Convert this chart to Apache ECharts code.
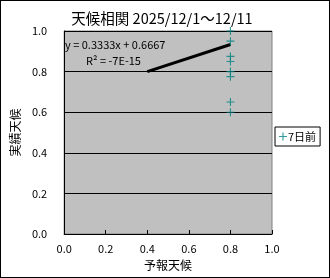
<!DOCTYPE html>
<html><head><meta charset="utf-8">
<script src="https://cdn.jsdelivr.net/npm/echarts@6/dist/echarts.min.js"></script>
<style>html,body{margin:0;padding:0;background:#fff}#c{width:330px;height:278px;box-sizing:border-box;border:1px solid #000}</style>
</head><body><div id="c"></div>
<script>
const titleText = '天候相関 2025/12/1～12/11';
const seriesName = '7日前';
const forecastX = [0.8, 0.8, 0.8, 0.8, 0.8, 0.8, 0.8, 0.8];
const actualY = [1.0, 0.95, 0.875, 0.85, 0.8, 0.775, 0.65, 0.6];
const trendX = [0.4, 0.8];
const slope = 0.3333, intercept = 0.6667;
const eqText = 'y = 0.3333x + 0.6667';
const r2Text = 'R² = -7E-15';
const xName = '予報天候', yName = '実績天候';

const font = '"Noto Sans CJK JP", sans-serif';
const plus = 'path://M3,0 L4,0 L4,3 L7,3 L7,4 L4,4 L4,7 L3,7 L3,4 L0,4 L0,3 L3,3 Z';
const chart = echarts.init(document.getElementById('c'));
chart.setOption({
  animation: false,
  title: { text: titleText, left: 156, top: 5, textAlign: 'center',
    textStyle: { fontFamily: font, fontSize: 14.5, fontWeight: 'normal', color: '#000' } },
  grid: { left: 58, top: 30, width: 213, height: 203, show: true, backgroundColor: '#c0c0c0', borderColor: '#808080', borderWidth: 1 },
  legend: { left: 274, top: 126, orient: 'vertical', backgroundColor: '#fff', borderColor: '#000', borderWidth: 1,
    padding: [4, 4], itemWidth: 8, itemHeight: 8, itemGap: 2,
    textStyle: { fontFamily: font, fontSize: 11, color: '#000', padding: [0, 0, 0, -4] },
    data: [{ name: seriesName, icon: plus, itemStyle: { color: '#008080' } }] },
  xAxis: { type: 'value', min: 0, max: 1, interval: 0.2, name: xName, nameLocation: 'middle', nameGap: 25,
    nameTextStyle: { fontFamily: font, fontSize: 12, color: '#000' },
    axisLine: { lineStyle: { color: '#000' } }, axisTick: { show: true, inside: true, length: 4, lineStyle: { color: '#000' } },
    splitLine: { show: false },
    axisLabel: { fontFamily: font, fontSize: 11, color: '#000', margin: 9, formatter: v => v.toFixed(1) } },
  yAxis: { type: 'value', min: 0, max: 1, interval: 0.2, name: yName, nameLocation: 'middle', nameGap: 40, nameRotate: 90,
    nameTextStyle: { fontFamily: font, fontSize: 12, color: '#000' },
    axisLine: { show: true, lineStyle: { color: '#000' } }, axisTick: { show: false },
    splitLine: { show: true, lineStyle: { color: '#000', width: 1 } },
    axisLabel: { fontFamily: font, fontSize: 11, color: '#000', margin: 17, formatter: v => v.toFixed(1) } },
  series: [
    { name: seriesName, type: 'scatter', symbol: plus, symbolSize: 8, itemStyle: { color: '#008080' },
      data: forecastX.map((x, i) => [x, actualY[i]]), z: 3 },
    { name: 'trend', type: 'line', showSymbol: false, symbol: 'none', lineStyle: { color: '#000', width: 3 },
      data: trendX.map(x => [x, slope * x + intercept]), z: 2 }
  ],
  graphic: [
    { type: 'text', left: 64, top: 38, style: { text: eqText, font: '11px ' + font, fill: '#000' } },
    { type: 'text', left: 85, top: 54, style: { text: r2Text, font: '11px ' + font, fill: '#000' } }
  ]
});
</script></body></html>
